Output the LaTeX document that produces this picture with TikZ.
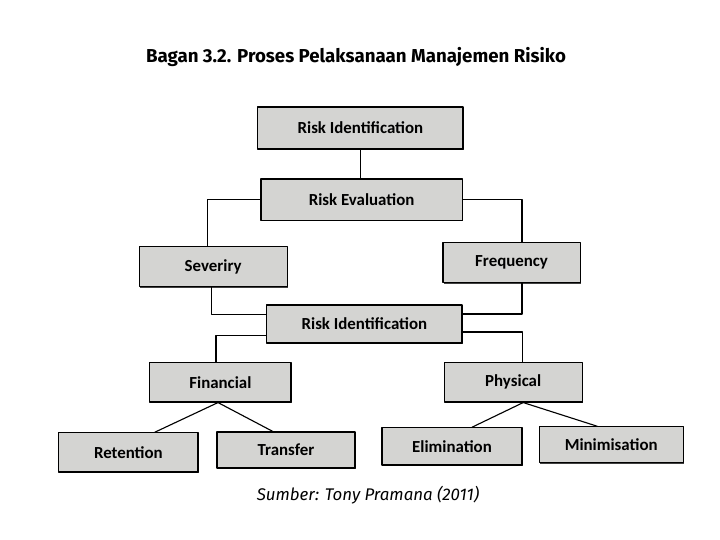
\documentclass[tikz,border=0pt]{standalone}
\usepackage{fontspec}
\setmainfont{Carlito}
\newfontfamily\titlefont{Fira Sans}
\usepackage{tikz}
\usepackage{xcolor}
\usetikzlibrary{shadows}

\definecolor{boxgray}{RGB}{212,212,210}

\begin{document}
\begin{tikzpicture}[scale=1.0, line cap=round, line join=round,
    riskbox/.style={draw=black, line width=0.8pt, fill=boxgray,
      drop shadow={shadow xshift=0.9pt, shadow yshift=-0.9pt, fill=black!75, opacity=1},
      inner sep=0pt, font=\fontsize{12}{14}\selectfont\bfseries},
    link/.style={draw=black, line width=0.8pt}]
  \useasboundingbox (0,0) rectangle (18,13.5);

  \node[font=\titlefont\fontsize{13.3}{15}\selectfont\bfseries] (title) at (8.9,12.08)
    {Bagan 3.2. Proses Pelaksanaan Manajemen Risiko};

  % upper part
  \node[riskbox, minimum width=5.13cm, minimum height=1.05cm] (rid1) at (9.01,10.3) {Risk Identification};
  \node[riskbox, minimum width=5.03cm, minimum height=1.03cm] (reval) at (9.04,8.51) {Risk Evaluation};
  \node[riskbox, minimum width=3.7cm, minimum height=1.0cm] (sev) at (5.33,6.83) {Severiry};
  \node[riskbox, minimum width=3.43cm, minimum height=1.0cm] (freq) at (12.79,6.93) {Frequency};
  \node[riskbox, minimum width=4.88cm, minimum height=0.95cm] (rid2) at (9.11,5.4) {Risk Identification};

  % lower part
  \node[riskbox, minimum width=3.53cm, minimum height=0.98cm] (fin) at (5.51,3.94) {Financial};
  \node[riskbox, minimum width=3.45cm, minimum height=0.98cm] (phys) at (12.83,3.94) {Physical};
  \node[riskbox, minimum width=3.48cm, minimum height=0.98cm] (ret) at (3.21,2.19) {Retention};
  \node[riskbox, minimum width=3.45cm, minimum height=0.9cm] (trans) at (7.15,2.25) {Transfer};
  \node[riskbox, minimum width=3.5cm, minimum height=0.93cm] (elim) at (11.3,2.34) {Elimination};
  \node[riskbox, minimum width=3.6cm, minimum height=0.9cm] (mini) at (15.28,2.38) {Minimisation};

  \coordinate (finbot) at ([xshift=-0.06cm]fin.south);
  \coordinate (physbot) at ([xshift=0.25cm]phys.south);

  \draw[link] (rid1.south) -- (rid1.south |- reval.north);
  \draw[link] (reval.west) -| ([xshift=-0.15cm]sev.north);
  \draw[link] (reval.east) -| ([xshift=0.26cm]freq.north);
  \draw[link] ([xshift=-0.05cm]sev.south) |- ([yshift=0.23cm]rid2.west);
  \draw[link] ([xshift=0.26cm]freq.south) |- ([yshift=0.25cm]rid2.east);
  \draw[link] ([yshift=-0.28cm]rid2.west) -| ([xshift=-0.11cm]fin.north);
  \draw[link] ([yshift=-0.2cm]rid2.east) -| ([xshift=0.23cm]phys.north);
  \draw[link] (finbot) -- ([xshift=0.66cm]ret.north);
  \draw[link] (finbot) -- ([xshift=-0.33cm]trans.north);
  \draw[link] (physbot) -- ([xshift=0.5cm]elim.north);
  \draw[link] (physbot) -- ([xshift=-0.35cm]mini.north);

  \node[font=\titlefont\itshape\fontsize{12}{14}\selectfont] (source) at (9.2,1.13)
    {Sumber: Tony Pramana (2011)};
\end{tikzpicture}
\end{document}
